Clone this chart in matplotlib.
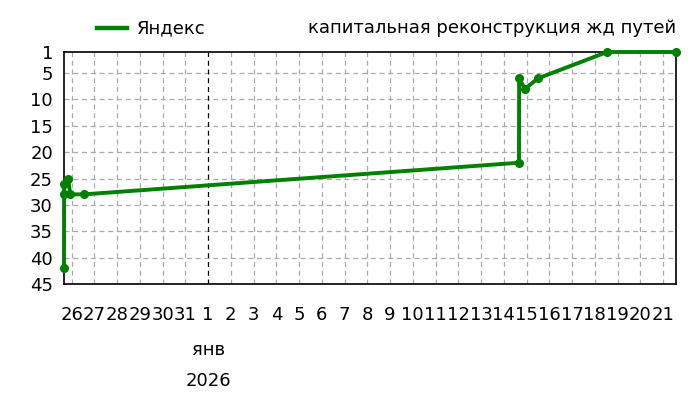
import matplotlib
matplotlib.use("Agg")
import matplotlib.pyplot as plt
import matplotlib.dates as mdates
import matplotlib.transforms as mtransforms
import numpy as np
import pandas as pd

series_name = "Яндекс"
title_text = "капитальная реконструкция жд путей"
times = ["2025-12-25 16:00", "2025-12-25 16:05", "2025-12-25 16:20", "2025-12-25 20:30",
         "2025-12-25 22:30", "2025-12-26 13:00", "2026-01-14 16:00", "2026-01-14 16:10",
         "2026-01-14 22:20", "2026-01-15 12:00", "2026-01-18 13:00", "2026-01-21 13:40"]
positions = [42, 28, 26, 25, 28, 28, 22, 6, 8, 6, 1, 1]
y_ticks = [1, 5, 10, 15, 20, 25, 30, 35, 40, 45]
month_label = "янв"
year_label = "2026"

t = pd.to_datetime(times)
days = pd.date_range("2025-12-26", "2026-01-21", freq="D")

plt.rcParams['font.family'] = ['DejaVu Sans']
fig = plt.figure(figsize=(7, 4), dpi=100)
ax = fig.add_axes([64/700, 1-284/400, (676-64)/700, (284-52)/400])

ax.plot(t, positions, color="#008000", lw=2.8, marker="o", ms=5.5, label=series_name,
        solid_joinstyle="round", zorder=3, clip_on=False)

ax.set_xlim(t.min(), t.max())
ax.set_ylim(45, 1)
ax.set_yticks(y_ticks)
ax.set_yticklabels([str(v) for v in y_ticks], fontsize=13)
ax.set_xticks(days)
ax.set_xticklabels([str(d.day) for d in days], fontsize=13)
ax.tick_params(axis="both", length=0)
ax.tick_params(axis="x", pad=16)
ax.tick_params(axis="y", pad=8)

for d in days:
    if d.day == 1:
        ax.axvline(d, color="black", lw=0.9, ls=(0, (4, 3)), zorder=2)
    else:
        ax.axvline(d, color="#aaaaaa", lw=0.9, ls=(0, (4, 3)), zorder=1)
for v in y_ticks[1:-1]:
    ax.axhline(v, color="#aaaaaa", lw=0.9, ls=(0, (4, 3)), zorder=1)

for s in ax.spines.values():
    s.set_color("black")
    s.set_linewidth(1.2)

jan1 = pd.Timestamp("2026-01-01")
trans = mtransforms.blended_transform_factory(ax.transData, fig.transFigure)
fig.text(mdates.date2num(jan1), 1-350/400, month_label, transform=trans, ha="center", va="center", fontsize=13)
fig.text(mdates.date2num(jan1), 1-381/400, year_label, transform=trans, ha="center", va="center", fontsize=13)

fig.lines.append(plt.Line2D([97/700, 127/700], [1-28/400, 1-28/400], color="#008000", lw=3.2,
                            transform=fig.transFigure))
fig.text(137/700, 1-28/400, series_name, ha="left", va="center", fontsize=13)
fig.text(676/700, 1-28/400, title_text, ha="right", va="center", fontsize=13)

fig.savefig("out.png", dpi=100)
